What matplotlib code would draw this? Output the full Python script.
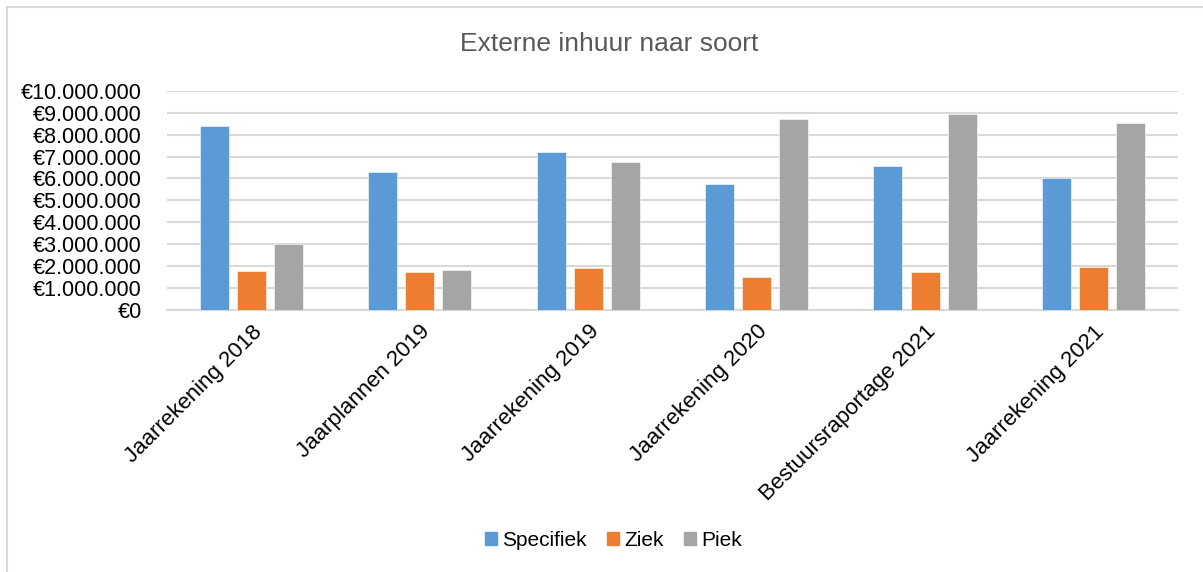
import matplotlib.pyplot as plt
from matplotlib.lines import Line2D
from matplotlib.ticker import FuncFormatter
import numpy as np

plt.rcParams['font.family'] = ['Liberation Sans', 'DejaVu Sans']

categories = ["Jaarrekening 2018", "Jaarplannen 2019", "Jaarrekening 2019",
              "Jaarrekening 2020", "Bestuursraportage 2021", "Jaarrekening 2021"]
specifiek = [8400000, 6310000, 7220000, 5740000, 6570000, 6030000]
ziek = [1790000, 1720000, 1900000, 1500000, 1750000, 1960000]
piek = [3010000, 1810000, 6760000, 8710000, 8950000, 8530000]

series = [("Specifiek", specifiek, "#5B9BD5"),
          ("Ziek", ziek, "#ED7D31"),
          ("Piek", piek, "#A5A5A5")]

fig = plt.figure(figsize=(12.03, 5.72), dpi=100)
ax = fig.add_axes([0.1388, 0.458, 0.8402, 0.3834])

x = np.arange(len(categories))
width = 0.172
step = 0.22
for i, (name, vals, color) in enumerate(series):
    ax.bar(x + (i - 1) * step, vals, width, color=color, label=name,
           edgecolor="white", linewidth=0.4, zorder=3)

ax.set_xlim(-0.5, len(categories) - 0.5)
ax.set_ylim(0, 10000000)
ax.set_yticks(np.arange(0, 10000001, 1000000))
ax.yaxis.set_major_formatter(
    FuncFormatter(lambda v, p: "€" + f"{int(v):,}".replace(",", ".")))
ax.grid(axis="y", color="#d9d9d9", linewidth=1.5, zorder=0)
for side in ["left", "right", "top"]:
    ax.spines[side].set_visible(False)
ax.spines["bottom"].set_color("#d9d9d9")
ax.spines["bottom"].set_linewidth(1.5)
ax.tick_params(axis="both", length=0, labelsize=16, colors="#000000")
ax.tick_params(axis="y", pad=18, labelsize=15.5)
ax.tick_params(axis="x", pad=8)
ax.set_xticks(x)
ax.set_xticklabels(categories, rotation=45, ha="right", rotation_mode="anchor")

fig.text(0.506, 0.923, "Externe inhuur naar soort", ha="center", va="center",
         fontsize=19, color="#595959")

handles = [plt.Rectangle((0, 0), 1, 1, color=c) for _, _, c in series]
fig.legend(handles, [s[0] for s in series], loc="center",
           bbox_to_anchor=(0.51, 0.055), ncol=3, frameon=False, fontsize=15,
           handlelength=0.55, handleheight=0.55, handletextpad=0.25,
           columnspacing=1.0)

# chart area border (left and top edges)
fig.add_artist(Line2D([7 / 1203, 7 / 1203], [0, 1 - 7 / 572],
                      transform=fig.transFigure, color="#d9d9d9", lw=1.5))
fig.add_artist(Line2D([7 / 1203, 1], [1 - 7 / 572, 1 - 7 / 572],
                      transform=fig.transFigure, color="#d9d9d9", lw=1.5))

fig.savefig("out.png", dpi=100, facecolor="white")
